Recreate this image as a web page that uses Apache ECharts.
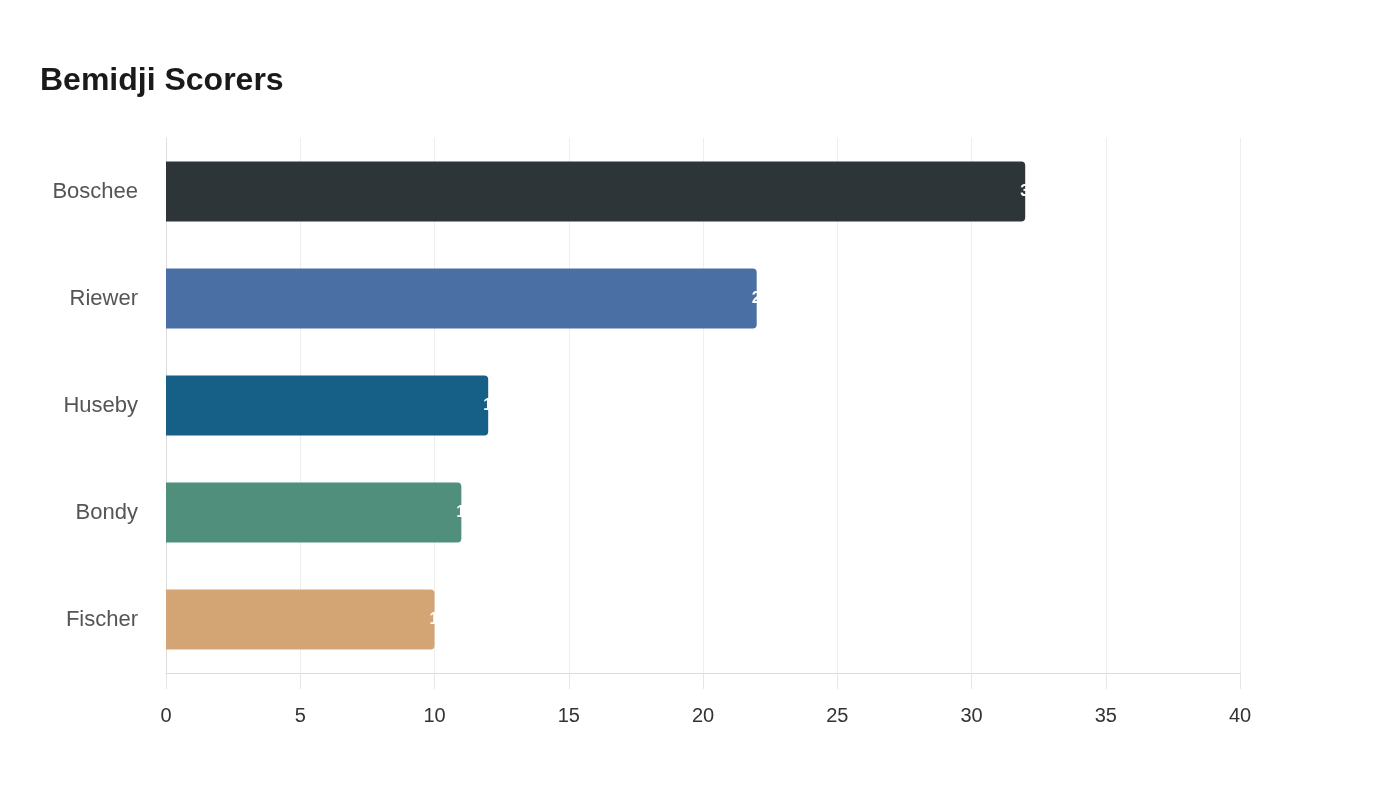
<!DOCTYPE html>
<html><head><meta charset="utf-8">
<script src="https://cdn.jsdelivr.net/npm/echarts@6/dist/echarts.min.js"></script>
<style>html,body{margin:0;padding:0;background:#fff}#c{width:1400px;height:800px}</style>
</head><body><div id="c"></div>
<script>
const categories = ["Boschee", "Riewer", "Huseby", "Bondy", "Fischer"];
const goals = [32, 22, 12, 11, 10];
const colors = ["#2e3538", "#4a6fa5", "#166088", "#4f8f7b", "#d4a574"];
const xTicks = [0, 5, 10, 15, 20, 25, 30, 35, 40];
const FONT = '"Liberation Sans"';

const chart = echarts.init(document.getElementById('c'));
chart.setOption({
  backgroundColor: '#fff',
  animation: false,
  textStyle: { fontFamily: FONT },
  title: {
    text: 'Bemidji Scorers', left: 35, top: 60,
    textStyle: { fontFamily: FONT, fontSize: 32, fontWeight: 'bold', color: '#1a1a1a' }
  },
  grid: { left: 166, right: 160, top: 138, bottom: 127 },
  xAxis: {
    type: 'value', min: xTicks[0], max: xTicks[xTicks.length - 1], interval: 5,
    axisLine: { show: true, lineStyle: { color: '#dddddd' } },
    axisTick: { show: true, length: 16, lineStyle: { color: '#e6e6e6' } },
    splitLine: { show: true, lineStyle: { color: '#eeeeee' } },
    axisLabel: { color: '#333', fontSize: 20, margin: 33, fontFamily: FONT }
  },
  yAxis: {
    type: 'category', data: categories, inverse: true,
    axisLine: { show: true, lineStyle: { color: '#dddddd' } },
    axisTick: { show: false },
    axisLabel: { color: '#555', fontSize: 22, margin: 28, fontFamily: FONT, padding: [3, 0, 0, 0] }
  },
  series: [{
    type: 'bar', barWidth: 60,
    data: goals.map((v, i) => ({ value: v, itemStyle: { color: colors[i], borderRadius: [0, 4, 4, 0] } })),
    label: { show: true, position: 'right', distance: -5, color: '#fff', fontWeight: 'bold', fontSize: 16, fontFamily: FONT }
  }]
});
</script></body></html>
